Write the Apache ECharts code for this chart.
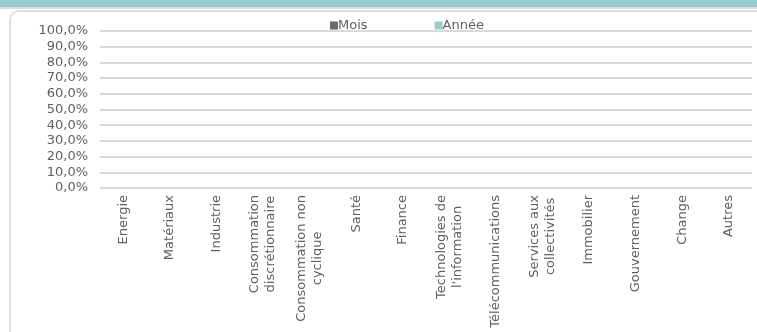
<!DOCTYPE html>
<html><head><meta charset="utf-8">
<script src="https://cdn.jsdelivr.net/npm/echarts@6/dist/echarts.min.js"></script>
<style>
html,body{margin:0;padding:0;width:757px;height:332px;overflow:hidden;background:#fff;}
#strip{position:absolute;left:0;top:0;width:757px;height:7px;background:#96cdcd;border-bottom:2px solid #dcdcdc;}
#panel{position:absolute;left:9px;top:10px;width:760px;height:340px;border:2px solid #dedede;border-radius:10px;box-sizing:border-box;}
#chart{position:absolute;left:0;top:0;width:757px;height:332px;}
</style></head>
<body>
<div id="strip"></div><div id="panel"></div>
<div id="chart"></div>
<script>
const categories = ['Energie','Matériaux','Industrie','Consommation\ndiscrétionnaire','Consommation non\ncyclique','Santé','Finance','Technologies de\nl\'information','Télécommunications','Services aux\ncollectivités','Immobilier','Gouvernement','Change','Autres'];
const seriesNames = ['Mois','Année'];
const moisValues = [0,0,0,0,0,0,0,0,0,0,0,0,0,0];
const anneeValues = [0,0,0,0,0,0,0,0,0,0,0,0,0,0];
const yMin = 0, yMax = 1, yStep = 0.1;

const FONT = 'DejaVu Sans';
const TXT = '#5f5f5f';
const chart = echarts.init(document.getElementById('chart'), null, {renderer:'canvas'});
chart.setOption({
  animation:false,
  textStyle:{fontFamily:FONT},
  legend:{
    data:seriesNames, left:325, top:14, icon:'rect', itemWidth:8, itemHeight:8, itemGap:67,
    textStyle:{fontFamily:FONT, fontSize:13, color:TXT, padding:[0,0,0,-5]}
  },
  grid:{left:100, right:5, top:31, bottom:144},
  xAxis:{
    type:'category', data:categories,
    axisLine:{show:false}, axisTick:{show:false},
    axisLabel:{interval:0, rotate:90, margin:7, fontFamily:FONT, fontSize:13, color:TXT, lineHeight:16,
      formatter:v=>v.split('\n').map(s=>'{a|'+s+'}').join('\n'),
      rich:{a:{align:'center', fontFamily:FONT, fontSize:13, color:TXT, lineHeight:16}}}
  },
  yAxis:{
    type:'value', min:yMin, max:yMax, interval:yStep,
    axisLine:{show:false}, axisTick:{show:false},
    splitLine:{lineStyle:{color:'#d9d9d9', width:2}},
    axisLabel:{margin:12, fontFamily:FONT, fontSize:13, color:TXT,
      formatter:v=>(v*100).toFixed(1).replace('.',',')+'%'}
  },
  series:[
    {name:'Mois', type:'bar', data:moisValues, itemStyle:{color:'#6b6b6b'}, barGap:'0%'},
    {name:'Année', type:'bar', data:anneeValues, itemStyle:{color:'#96cdcd'}}
  ]
});
</script>
</body></html>
